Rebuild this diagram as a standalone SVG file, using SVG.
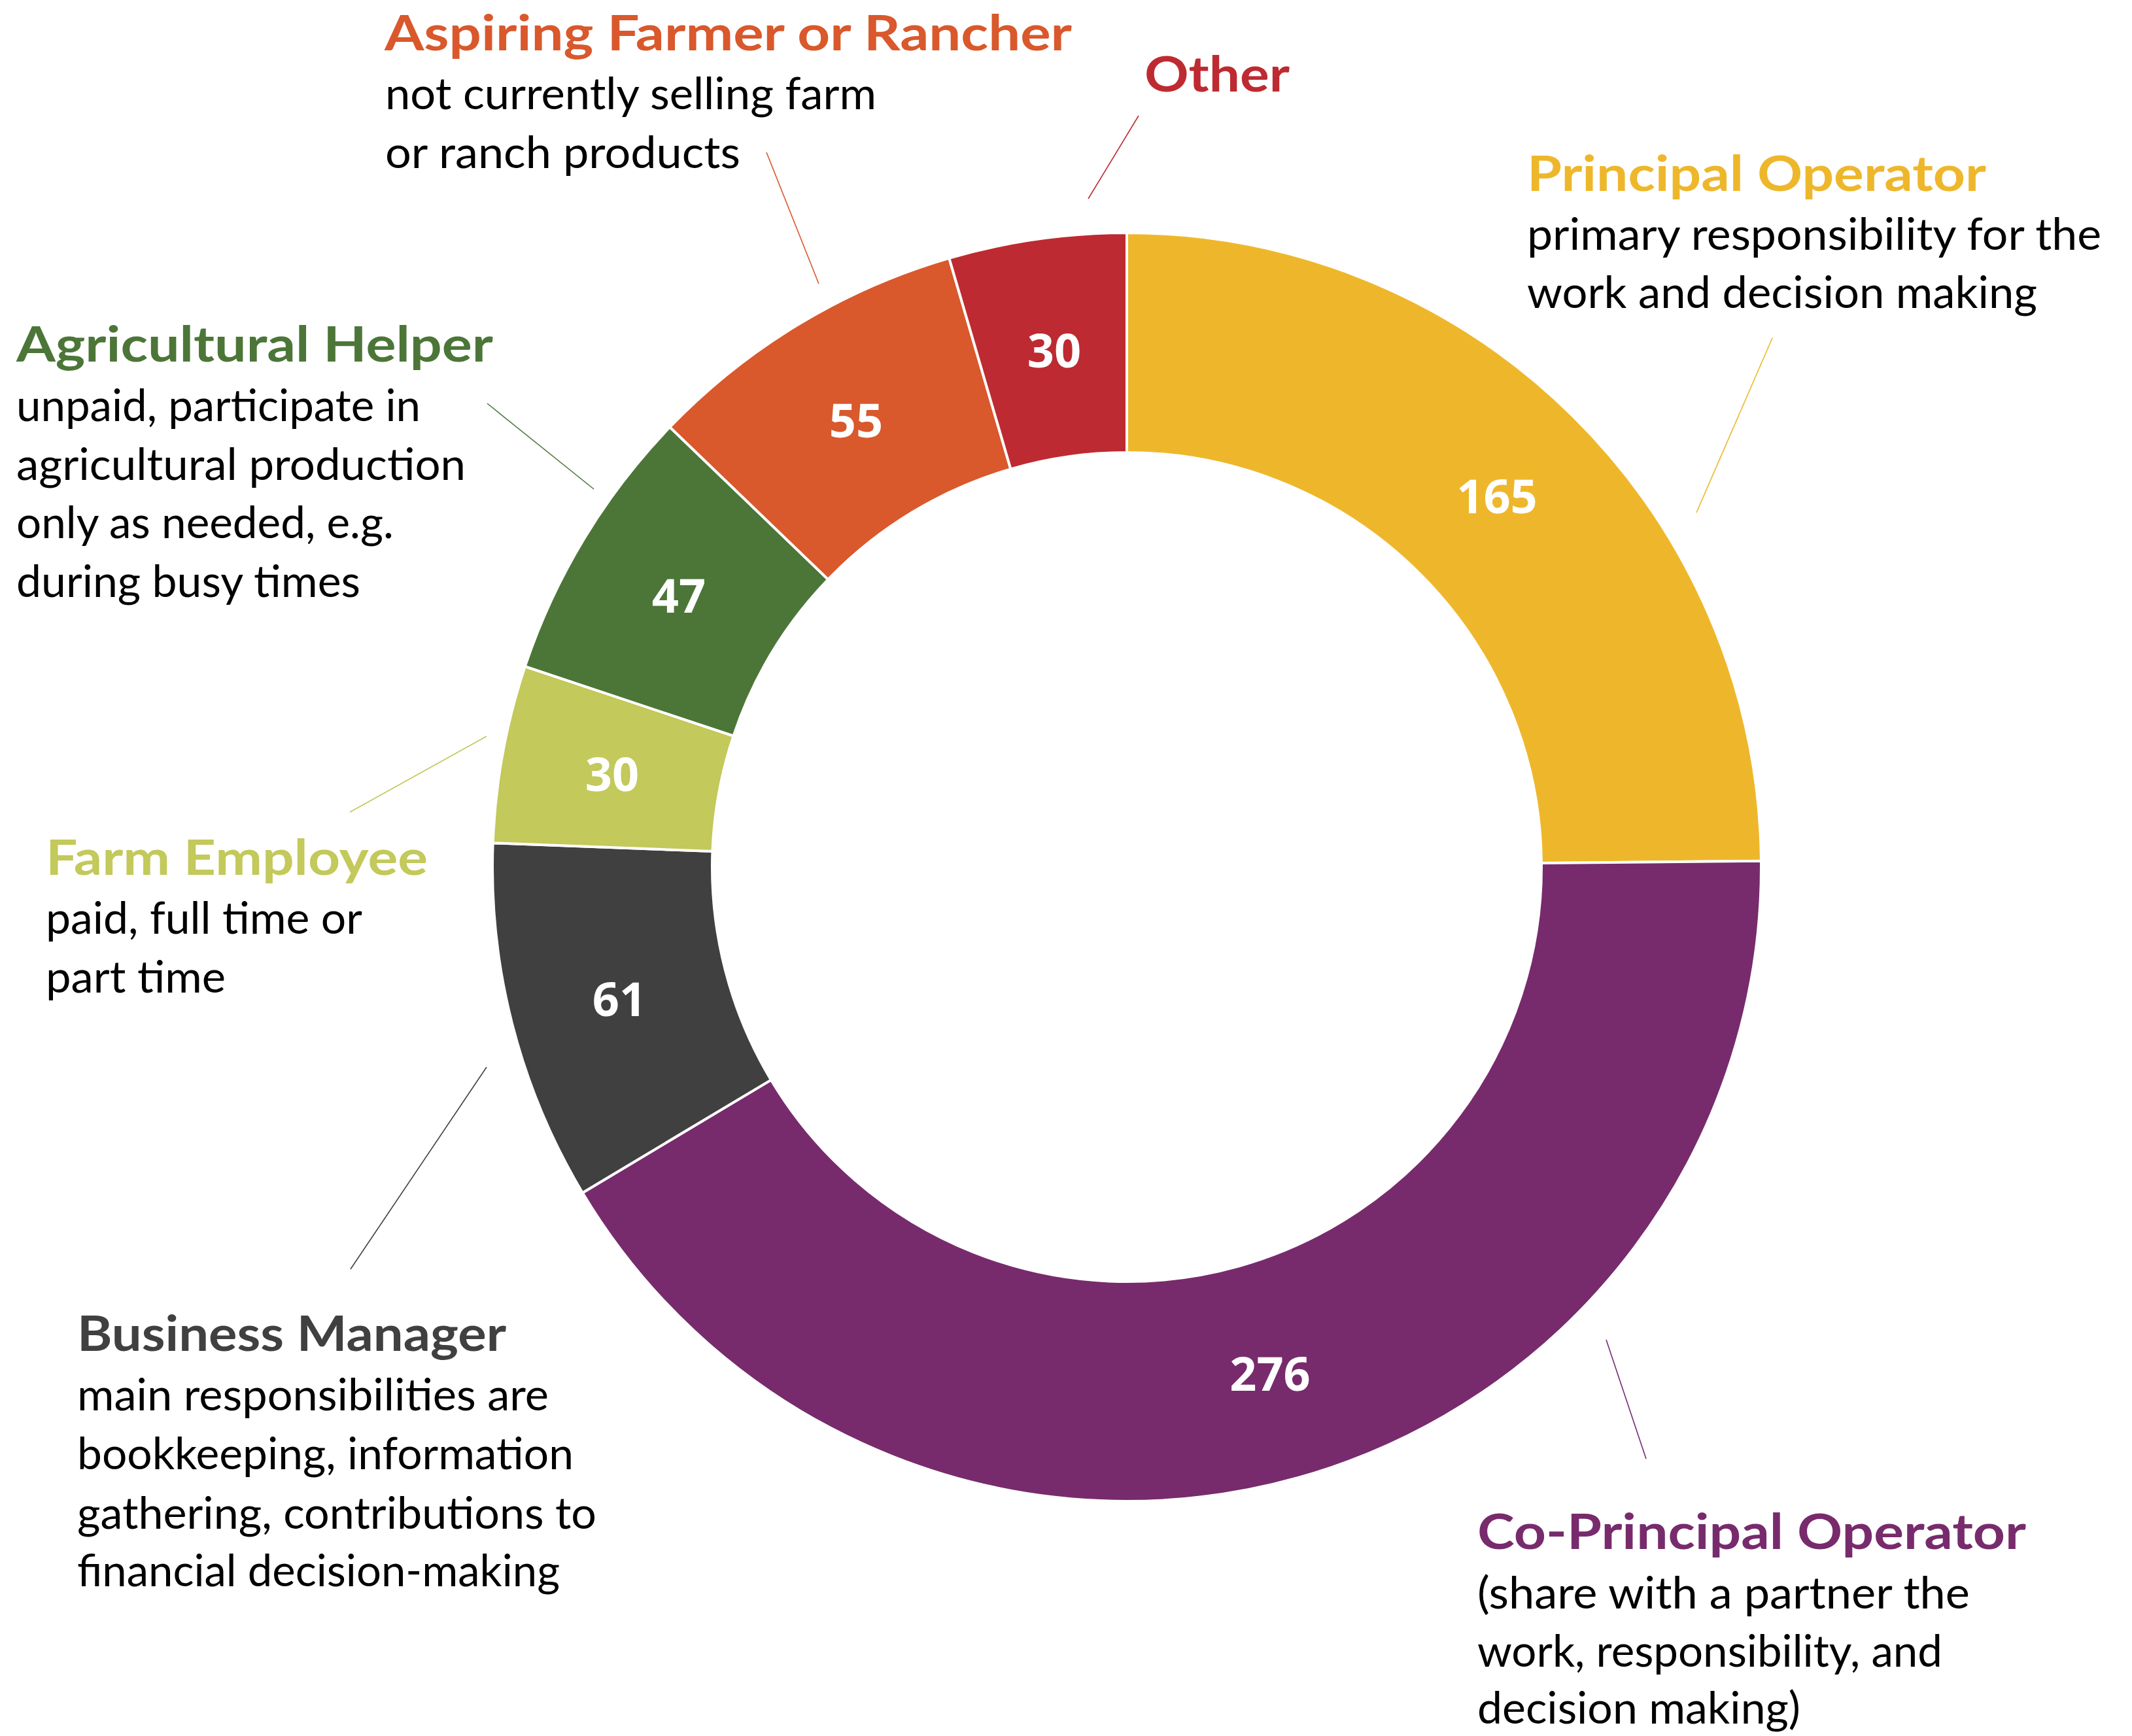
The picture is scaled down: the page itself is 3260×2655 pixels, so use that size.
<svg xmlns="http://www.w3.org/2000/svg" width="3260" height="2655" viewBox="0 0 3260 2655">
<style>
.slice{stroke:#ffffff;stroke-width:4;stroke-linejoin:miter}
.num{font-family:"Open Sans","Liberation Sans",sans-serif;font-weight:700;font-size:72px;fill:#ffffff;text-anchor:middle}
.ttl{font-family:Lato,"Open Sans","Liberation Sans",sans-serif;font-weight:700;font-size:74px}
.body{font-family:Lato,"Open Sans","Liberation Sans",sans-serif;font-weight:400;font-size:68px;fill:#000000}
.conn{stroke-width:1.6;fill:none}
.c1{fill:#EEB72B}.c2{fill:#772B6C}.c3{fill:#404040}.c4{fill:#C3C95A}.c5{fill:#4C7638}.c6{fill:#D9582C}.c7{fill:#BE2A31}
</style>
<rect width="3260" height="2655" fill="#ffffff"/>
<g id="connectors">
<line class="conn" stroke="#EEB72B" x1="2710" y1="517" x2="2594" y2="784"/>
<line class="conn" stroke="#772B6C" x1="2456" y1="2049" x2="2517" y2="2231"/>
<line class="conn" stroke="#404040" x1="744" y1="1632" x2="536" y2="1941"/>
<line class="conn" stroke="#C3C95A" x1="744" y1="1126" x2="535" y2="1242"/>
<line class="conn" stroke="#4C7638" x1="745" y1="617" x2="908" y2="748"/>
<line class="conn" stroke="#D9582C" x1="1172" y1="233" x2="1252" y2="434"/>
<line class="conn" stroke="#BE2A31" x1="1741" y1="177" x2="1664" y2="304"/>
</g>
<g id="principal-operator">
<path class="slice c1" d="M1723,356 A970,970 0 0 1 2692.96,1316.82 L2356.97,1320.00 A634,634 0 0 0 1723,692 Z"/>
<text class="num" x="2289" y="785">165</text>
<text class="ttl c1" x="2335" y="292" textLength="702" lengthAdjust="spacingAndGlyphs">Principal Operator</text>
<text class="body" x="2335" y="382" textLength="878" lengthAdjust="spacingAndGlyphs">primary responsibility for the</text>
<text class="body" x="2335" y="471" textLength="780" lengthAdjust="spacingAndGlyphs">work and decision making</text>
</g>
<g id="co-principal-operator">
<path class="slice c2" d="M2692.96,1316.82 A970,970 0 0 1 890.71,1824.19 L1179.00,1651.62 A634,634 0 0 0 2356.97,1320.00 Z"/>
<text class="num" x="1942" y="2127">276</text>
<text class="ttl c2" x="2259" y="2369" textLength="839" lengthAdjust="spacingAndGlyphs">Co-Principal Operator</text>
<text class="body" x="2259" y="2460" textLength="753" lengthAdjust="spacingAndGlyphs">(share with a partner the</text>
<text class="body" x="2259" y="2549" textLength="711" lengthAdjust="spacingAndGlyphs">work, responsibility, and</text>
<text class="body" x="2259" y="2636" textLength="494" lengthAdjust="spacingAndGlyphs">decision making)</text>
</g>
<g id="business-manager">
<path class="slice c3" d="M890.71,1824.19 A970,970 0 0 1 753.69,1289.29 L1089.45,1302.01 A634,634 0 0 0 1179.00,1651.62 Z"/>
<text class="num" x="947" y="1554">61</text>
<text class="ttl c3" x="118" y="2066" textLength="656" lengthAdjust="spacingAndGlyphs">Business Manager</text>
<text class="body" x="118" y="2157" textLength="721" lengthAdjust="spacingAndGlyphs">main responsibilities are</text>
<text class="body" x="118" y="2247" textLength="759" lengthAdjust="spacingAndGlyphs">bookkeeping, information</text>
<text class="body" x="118" y="2338" textLength="794" lengthAdjust="spacingAndGlyphs">gathering, contributions to</text>
<text class="body" x="118" y="2426" textLength="738" lengthAdjust="spacingAndGlyphs">financial decision-making</text>
</g>
<g id="farm-employee">
<path class="slice c4" d="M753.69,1289.29 A970,970 0 0 1 802.78,1019.26 L1121.53,1125.51 A634,634 0 0 0 1089.45,1302.01 Z"/>
<text class="num" x="936" y="1210">30</text>
<text class="ttl c4" x="70" y="1338" textLength="584" lengthAdjust="spacingAndGlyphs">Farm Employee</text>
<text class="body" x="70" y="1428" textLength="484" lengthAdjust="spacingAndGlyphs">paid, full time or</text>
<text class="body" x="70" y="1518" textLength="275" lengthAdjust="spacingAndGlyphs">part time</text>
</g>
<g id="agricultural-helper">
<path class="slice c5" d="M802.78,1019.26 A970,970 0 0 1 1024.25,653.21 L1266.29,886.26 A634,634 0 0 0 1121.53,1125.51 Z"/>
<text class="num" x="1038" y="937">47</text>
<text class="ttl c5" x="25" y="553" textLength="729" lengthAdjust="spacingAndGlyphs">Agricultural Helper</text>
<text class="body" x="25" y="644" textLength="618" lengthAdjust="spacingAndGlyphs">unpaid, participate in</text>
<text class="body" x="25" y="734" textLength="687" lengthAdjust="spacingAndGlyphs">agricultural production</text>
<text class="body" x="25" y="823" textLength="577" lengthAdjust="spacingAndGlyphs">only as needed, e.g.</text>
<text class="body" x="25" y="913" textLength="526" lengthAdjust="spacingAndGlyphs">during busy times</text>
</g>
<g id="aspiring-farmer">
<path class="slice c6" d="M1024.25,653.21 A970,970 0 0 1 1451.32,394.81 L1545.43,717.37 A634,634 0 0 0 1266.29,886.26 Z"/>
<text class="num" x="1309" y="669">55</text>
<text class="ttl c6" x="588" y="77" textLength="1051" lengthAdjust="spacingAndGlyphs">Aspiring Farmer or Rancher</text>
<text class="body" x="589" y="167" textLength="751" lengthAdjust="spacingAndGlyphs">not currently selling farm</text>
<text class="body" x="589" y="257" textLength="543" lengthAdjust="spacingAndGlyphs">or ranch products</text>
</g>
<g id="other">
<path class="slice c7" d="M1451.32,394.81 A970,970 0 0 1 1723,356 L1723,692 A634,634 0 0 0 1545.43,717.37 Z"/>
<text class="num" x="1612" y="562">30</text>
<text class="ttl c7" x="1750" y="140" textLength="222" lengthAdjust="spacingAndGlyphs">Other</text>
</g>
</svg>
